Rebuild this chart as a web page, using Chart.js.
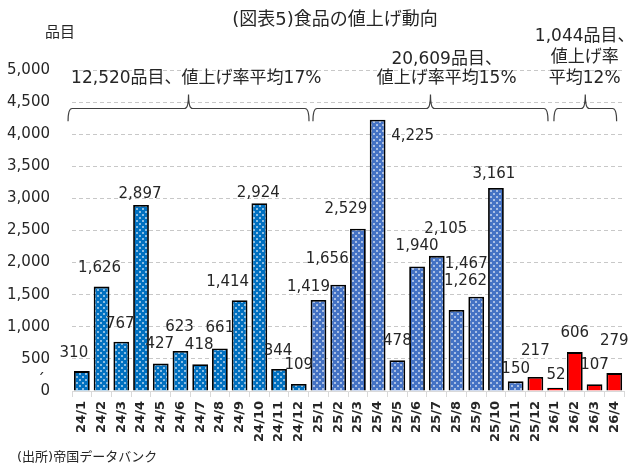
<!DOCTYPE html>
<html>
<head>
<meta charset="utf-8">
<script src="https://cdn.jsdelivr.net/npm/chart.js@4"></script>
<style>
  html, body { margin: 0; padding: 0; background: #fff; }
  #wrap { width: 634px; height: 466px; }
</style>
</head>
<body>
<div id="wrap"><canvas id="chart" width="634" height="466"></canvas></div>
<script>
// data
const months = ['24/1', '24/2', '24/3', '24/4', '24/5', '24/6', '24/7', '24/8', '24/9', '24/10', '24/11', '24/12',
    '25/1', '25/2', '25/3', '25/4', '25/5', '25/6', '25/7', '25/8', '25/9', '25/10', '25/11', '25/12',
    '26/1', '26/2', '26/3', '26/4'];
const items = [310, 1626, 767, 2897, 427, 623, 418, 661, 1414, 2924, 344, 109,
    1419, 1656, 2529, 4225, 478, 1940, 2105, 1262, 1467, 3161, 150, 217,
    52, 606, 107, 279];
// which group each bar belongs to (colour)
const barGroup = ['a', 'a', 'a', 'a', 'a', 'a', 'a', 'a', 'a', 'a', 'a', 'a',
    'b', 'b', 'b', 'b', 'b', 'b', 'b', 'b', 'b', 'b', 'b', 'c',
    'c', 'c', 'c', 'c'];
const yTicks = [0, 500, 1000, 1500, 2000, 2500, 3000, 3500, 4000, 4500, 5000];
const titleText = '(図表5)食品の値上げ動向';
const unitText = '品目';
const sourceText = '(出所)帝国データバンク';
const note2024 = ['12,520品目、値上げ率平均17%'];
const note2025 = ['20,609品目、', '値上げ率平均15%'];
const note2026 = ['1,044品目、', '値上げ率', '平均12%'];

const FONT = "'DejaVu Sans', 'Noto Sans CJK JP', sans-serif";
const TEXT = '#262626';

// dotted fill like the excel pattern
function dots(color) {
    const c = document.createElement('canvas');
    c.width = 6;
    c.height = 6;
    const g = c.getContext('2d');
    g.fillStyle = color;
    g.fillRect(0, 0, 6, 6);
    g.fillStyle = 'rgba(255,255,255,0.55)';
    g.fillRect(1, 1, 2, 2);
    g.fillRect(4, 4, 2, 2);
    return g.createPattern(c, 'repeat');
}
const fills = { a: dots('#0070C0'), b: dots('#4472C4'), c: '#FF0000' };

// label nudges (px) so the numbers sit where they do in the original
const labelNudge = [[-8, -18], [-2, -19], [-1, -18], [-1, -11], [-1, -19], [-1, -24], [-1, -19], [0, -20],
    [-12, -18], [-1, -10], [-1, -18], [0, -19], [-10, -13], [-11, -26], [-12, -20], [35, 16],
    [0, -19], [0, -20], [9, -27], [9, -29], [-10, -33], [-2, -14], [0, -12], [0, -26],
    [1, -13], [0, -19], [0, -19], [0, -32]];

function drawBrace(g, x1, x2, yLine, yEnd, yTip) {
    const xm = (x1 + x2) / 2;
    const r = 4;
    g.beginPath();
    g.moveTo(x1, yEnd);
    g.quadraticCurveTo(x1, yLine, x1 + r, yLine);
    g.lineTo(xm - r, yLine);
    g.quadraticCurveTo(xm, yLine, xm, yTip);
    g.quadraticCurveTo(xm, yLine, xm + r, yLine);
    g.lineTo(x2 - r, yLine);
    g.quadraticCurveTo(x2, yLine, x2, yEnd);
    g.stroke();
}

const extras = {
    id: 'extras',
    afterDatasetsDraw(chart) {
        const g = chart.ctx;
        const meta = chart.getDatasetMeta(0);
        g.save();
        g.font = '15px ' + FONT;
        g.fillStyle = TEXT;
        g.textAlign = 'center';
        g.textBaseline = 'middle';
        meta.data.forEach((bar, i) => {
            const n = labelNudge[i];
            g.fillText(items[i].toLocaleString('en-US'), bar.x + n[0], bar.y + n[1]);
        });
        g.restore();
    },
    afterDraw(chart) {
        const g = chart.ctx;
        const xs = chart.scales.x;
        const ys = chart.scales.y;
        const x0 = xs.getPixelForValue(0);
        const step = xs.getPixelForValue(1) - x0;
        const px = i => x0 + step * i;

        g.save();
        // braces
        g.strokeStyle = '#404040';
        g.lineWidth = 1.2;
        const yLine = ys.getPixelForValue(4400);
        const yEnd = ys.getPixelForValue(4200);
        const yTip = ys.getPixelForValue(4620);
        [[-0.7, 11.52], [11.72, 23.64], [23.94, 27.12]].forEach(r => {
            drawBrace(g, px(r[0]), px(r[1]), yLine, yEnd, yTip);
        });

        // notes over the braces
        g.fillStyle = TEXT;
        g.textAlign = 'center';
        g.textBaseline = 'middle';
        g.font = '17px ' + FONT;
        const yLast = ys.getPixelForValue(4860);
        const note = (lines, at, gap) => {
            lines.forEach((t, k) => {
                g.fillText(t, px(at), yLast - gap * (lines.length - 1 - k));
            });
        };
        note(note2024, 5.8, 20);
        note(note2025, 18.5, 19);
        note(note2026, 25.5, 21);

        // title, unit, source
        g.font = '18px ' + FONT;
        g.fillText(titleText, 335, 20);
        g.font = '15px ' + FONT;
        g.fillText(unitText, 60, 33);
        g.fillText('´', 41, 381);
        g.textAlign = 'left';
        g.font = '13px ' + FONT;
        g.fillText(sourceText, 17, 458);
        g.restore();
    }
};

new Chart(document.getElementById('chart'), {
    type: 'bar',
    data: {
        labels: months,
        datasets: [{
            data: items,
            backgroundColor: barGroup.map(k => fills[k]),
            borderColor: '#000',
            borderWidth: 1.8,
            barPercentage: 0.8,
            categoryPercentage: 1
        }]
    },
    options: {
        responsive: false,
        animation: false,
        layout: { padding: { left: 0, right: 8, top: 70, bottom: 0 } },
        plugins: {
            legend: { display: false },
            tooltip: { enabled: false }
        },
        scales: {
            x: {
                afterFit: s => { s.height = 75; },
                grid: { drawOnChartArea: false, tickLength: 6, color: '#d9d9d9' },
                border: { color: '#d9d9d9', width: 1 },
                ticks: {
                    minRotation: 90,
                    maxRotation: 90,
                    autoSkip: false,
                    padding: 4,
                    color: TEXT,
                    font: { family: FONT, size: 13, weight: 'bold' }
                }
            },
            y: {
                min: 0,
                max: 5000,
                afterFit: s => { s.width = 72; },
                afterBuildTicks: s => { s.ticks = yTicks.map(v => ({ value: v })); },
                grid: {
                    drawTicks: false,
                    color: c => (c.tick && c.tick.value === 0 ? 'rgba(0,0,0,0)' : '#c8c8c8')
                },
                border: { display: false, dash: [4, 3] },
                ticks: {
                    padding: 22,
                    color: TEXT,
                    font: { family: FONT, size: 15 },
                    callback: v => v.toLocaleString('en-US')
                }
            }
        }
    },
    plugins: [extras]
});
</script>
</body>
</html>
